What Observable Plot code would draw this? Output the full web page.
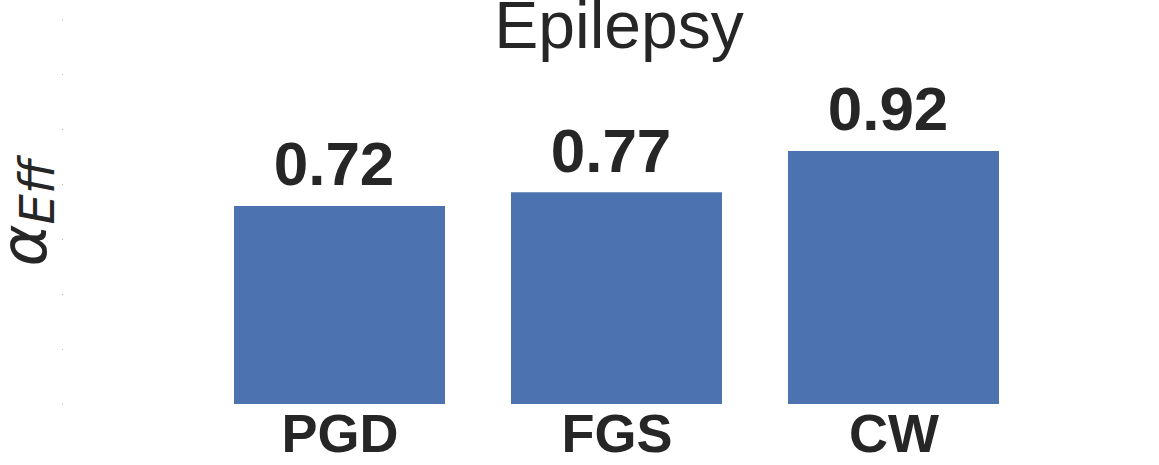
<!DOCTYPE html>
<html>
<head>
<meta charset="utf-8">
<script src="https://cdn.jsdelivr.net/npm/d3@7"></script>
<script src="https://cdn.jsdelivr.net/npm/@observablehq/plot@0.6"></script>
<style>
  html, body { margin: 0; padding: 0; background: #ffffff; }
</style>
</head>
<body>
<div id="chart"></div>
<script>
const methods = ["PGD", "FGS", "CW"];
const values = [0.72, 0.77, 0.92];
const yTicks = [0, 0.2, 0.4, 0.6, 0.8, 1.0, 1.2, 1.4];
const chartTitle = "Epilepsy";
const yLabelMain = "α";
const yLabelSub = "Eff";

const data = methods.map((m, i) => ({method: m, value: values[i]}));
const ink = "#262626";

const chart = Plot.plot({
  width: 1159,
  height: 465,
  marginLeft: 63,
  marginRight: 0,
  marginTop: 19,
  marginBottom: 61,
  style: {fontFamily: "'Liberation Sans', Arial, sans-serif", color: ink, background: "#ffffff"},
  x: {domain: methods, paddingInner: 0.2374, paddingOuter: 0.59, align: 0.518, label: null},
  y: {domain: [0, 1.4], label: null},
  marks: [
    Plot.barY(data, {x: "method", y: "value", fill: "#4C72B0"}),
    Plot.text(data, {x: "method", y: "value", text: d => d.value.toFixed(2), dx: -6, dy: -41,
      lineAnchor: "middle", fontSize: 62, fontWeight: "bold", fill: ink}),
    Plot.axisX({tickSize: 0, tickPadding: 9, fontSize: 54, fontWeight: "bold", fill: ink, label: null}),
    Plot.axisY({ticks: yTicks, tickSize: 1, tickFormat: () => "", stroke: "#b8b8b8", label: null}),
    Plot.text([chartTitle], {frameAnchor: "top", lineAnchor: "middle", text: d => d, dx: 7.5, dy: 7,
      fontSize: 66, fill: ink})
  ]
});

const svg = d3.select(chart);
const lab = svg.append("text")
  .attr("transform", "translate(46,213) rotate(-90)")
  .attr("text-anchor", "middle")
  .attr("fill", ink)
  .style("font-family", "'DejaVu Sans', sans-serif")
  .style("font-style", "italic");
lab.append("tspan").attr("font-size", 64).text(yLabelMain);
lab.append("tspan").attr("font-size", 48).attr("dy", 8).text(yLabelSub);

document.getElementById("chart").appendChild(chart);
</script>
</body>
</html>
